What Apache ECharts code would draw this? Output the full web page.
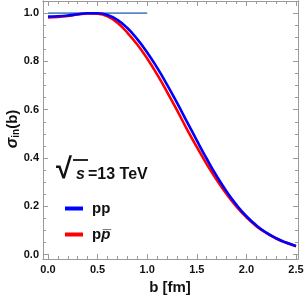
<!DOCTYPE html>
<html><head><meta charset="utf-8">
<script src="https://cdn.jsdelivr.net/npm/echarts@6/dist/echarts.min.js"></script>
<style>html,body{margin:0;padding:0;background:#fff}#c{width:307px;height:301px}</style>
</head><body><div id="c"></div>
<script>
// Data
var bValues = [0.0,0.1,0.2,0.3,0.4,0.5,0.6,0.7,0.8,0.9,1.0,1.1,1.2,1.3,1.4,1.5,1.6,1.7,1.8,1.9,2.0,2.1,2.2,2.3,2.4,2.5];
var ppValues = [0.986,0.987,0.990,0.995,0.999,0.999,0.992,0.972,0.938,0.892,0.837,0.774,0.704,0.629,0.551,0.473,0.397,0.326,0.262,0.206,0.159,0.121,0.091,0.068,0.050,0.036];
var ppbarValues = [0.982,0.984,0.988,0.994,0.998,0.997,0.987,0.960,0.919,0.870,0.812,0.746,0.674,0.598,0.520,0.446,0.375,0.310,0.251,0.199,0.155,0.118,0.090,0.067,0.049,0.035];
var refLineB = [0.0, 1.0];
var refLineValue = [1.0, 1.0];
var xMajorTicks = [0.0,0.5,1.0,1.5,2.0,2.5];
var xMinorTicks = [0.1,0.2,0.3,0.4,0.6,0.7,0.8,0.9,1.1,1.2,1.3,1.4,1.6,1.7,1.8,1.9,2.1,2.2,2.3,2.4];
var yMajorTicks = [0.0,0.2,0.4,0.6,0.8,1.0];
var yMinorTicks = [0.05,0.1,0.15,0.25,0.3,0.35,0.45,0.5,0.55,0.65,0.7,0.75,0.85,0.9,0.95,1.05];
var seriesNames = ['pp', 'pp\u0305'];

function zip(a, b) { return a.map(function (v, i) { return [v, b[i]]; }); }

var FONT = 'Liberation Sans';
var axisColor = '#9a9a9a';
var xMin = -0.05, xMax = 2.52, yMin = -0.018, yMax = 1.05;

function xAx(pos, ticks, len, labels) {
  return {
    type: 'value', position: pos, min: xMin, max: xMax,
    axisLine: { show: true, onZero: false, lineStyle: { color: axisColor, width: 1 } },
    axisTick: { show: true, inside: true, length: len, customValues: ticks, lineStyle: { color: axisColor } },
    axisLabel: labels ? { show: true, customValues: ticks, margin: 5, color: '#111', fontFamily: FONT, fontWeight: 'bold', fontSize: 11,
      formatter: function (v) { return v.toFixed(1); } } : { show: false },
    splitLine: { show: false }
  };
}
function yAx(pos, ticks, len, labels) {
  return {
    type: 'value', position: pos, min: yMin, max: yMax,
    axisLine: { show: true, onZero: false, lineStyle: { color: axisColor, width: 1 } },
    axisTick: { show: true, inside: true, length: len, customValues: ticks, lineStyle: { color: axisColor } },
    axisLabel: labels ? { show: true, customValues: ticks, margin: 4, color: '#111', fontFamily: FONT, fontWeight: 'bold', fontSize: 11,
      formatter: function (v) { return v.toFixed(1); } } : { show: false },
    splitLine: { show: false }
  };
}

var chart = echarts.init(document.getElementById('c'), null, { renderer: 'canvas' });
chart.setOption({
  animation: false,
  backgroundColor: '#fff',
  grid: { left: 43, top: 1, width: 255, height: 258, containLabel: false },
  xAxis: [
    xAx('bottom', xMajorTicks, 5, true),
    xAx('bottom', xMinorTicks, 3, false),
    xAx('top', xMajorTicks, 5, false),
    xAx('top', xMinorTicks, 3, false)
  ],
  yAxis: [
    yAx('left', yMajorTicks, 5, true),
    yAx('left', yMinorTicks, 3, false),
    yAx('right', yMajorTicks, 5, false),
    yAx('right', yMinorTicks, 3, false)
  ],
  legend: {
    orient: 'vertical', left: 60, top: 196, itemWidth: 18, itemHeight: 4, itemGap: 11,
    icon: 'rect',
    data: [seriesNames[0], seriesNames[1]],
    formatter: function (n) { return n === seriesNames[1] ? '{a|p}{b|p\u0305}' : n; },
    textStyle: {
      fontFamily: FONT, fontWeight: 'bold', fontSize: 15, color: '#111', padding: [0, 0, 0, 4],
      rich: { a: { fontFamily: FONT, fontWeight: 'bold', fontSize: 15, color: '#111' },
              b: { fontFamily: FONT, fontWeight: 'bold', fontStyle: 'italic', fontSize: 15, color: '#111' } }
    }
  },
  series: [
    { type: 'line', name: 'ref', data: zip(refLineB, refLineValue), showSymbol: false,
      lineStyle: { color: '#5b87c2', width: 1.6 }, z: 1 },
    { type: 'line', name: seriesNames[1], data: zip(bValues, ppbarValues), smooth: true, showSymbol: false,
      itemStyle: { color: '#ff0000' }, lineStyle: { color: '#ff0000', width: 2.6 }, z: 2 },
    { type: 'line', name: seriesNames[0], data: zip(bValues, ppValues), smooth: true, showSymbol: false,
      itemStyle: { color: '#0000ff' }, lineStyle: { color: '#0000ff', width: 2.6 }, z: 3 }
  ],
  graphic: [
    { type: 'text', left: 56, top: 155, style: { text: '\u221A', font: 'bold 29px "' + FONT + '"', fill: '#111' } },
    { type: 'line', shape: { x1: 73, y1: 160, x2: 88, y2: 160 }, style: { stroke: '#111', lineWidth: 1.8 } },
    { type: 'text', left: 76, top: 167, style: { text: 's', font: 'italic bold 16px "' + FONT + '"', fill: '#111' } },
    { type: 'text', left: 88, top: 167, style: { text: '=13 TeV', font: 'bold 16px "' + FONT + '"', fill: '#111' } },
    { type: 'text', x: 170, y: 288, style: { text: 'b [fm]', font: 'bold 15px "' + FONT + '"', fill: '#111', align: 'center', verticalAlign: 'middle' } },
    { type: 'text', x: 13, y: 129, rotation: Math.PI / 2,
      style: { text: '{s|\u03C3}{i|in}{p|(b)}', align: 'center', verticalAlign: 'middle',
        rich: { s: { font: 'italic bold 16px "' + FONT + '"', fill: '#111' },
                i: { font: 'bold 10px "' + FONT + '"', fill: '#111', verticalAlign: 'bottom', padding: [6, 0, 0, 0] },
                p: { font: 'bold 15px "' + FONT + '"', fill: '#111' } } } }
  ]
});
</script></body></html>
